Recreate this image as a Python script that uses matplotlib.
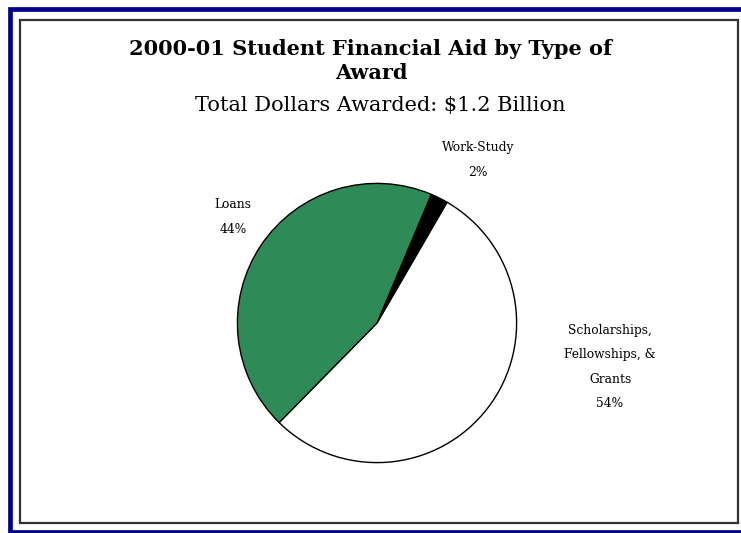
import matplotlib
matplotlib.use("Agg")
import matplotlib.pyplot as plt
from matplotlib.lines import Line2D
from matplotlib.patches import Rectangle

# ======================
# Data
# ======================
categories = ["Scholarships,\nFellowships, &\nGrants", "Work-Study", "Loans"]
shares = [54, 2, 44]
colors = ["white", "black", "#2E8B57"]

title = "2000-01 Student Financial Aid by Type of\nAward"
subtitle = "Total Dollars Awarded: $1.2 Billion"

W, H = 741, 533
fig = plt.figure(figsize=(W / 100, H / 100), dpi=100)
fig.patch.set_facecolor("white")

serif = ["DejaVu Serif"]


def px(x, y):
    # pixel position (from top-left) to figure fraction
    return x / W, 1 - y / H


# ======================
# Frames
# ======================
# outer blue border: open on the right side
navy = "#00008C"
(x0, y_top), (_, y_bot) = px(9.5, 9.0), px(9.5, 531.5)
fig.lines.append(Line2D([1.0, x0, x0, 1.0], [y_top, y_top, y_bot, y_bot],
                        transform=fig.transFigure, color=navy,
                        linewidth=3.4, solid_joinstyle="miter", zorder=0))

inner_frame = Rectangle(px(20, 523), (738 - 20) / W, (523 - 20) / H,
                        transform=fig.transFigure, fill=False,
                        edgecolor="#333333", linewidth=1.6, zorder=0)
fig.patches.append(inner_frame)

# ======================
# Titles
# ======================
fig.text(*px(371, 61), title, ha="center", va="center", fontsize=15,
         fontweight="bold", family=serif, linespacing=1.2)
fig.text(*px(380, 105), subtitle, ha="center", va="center", fontsize=15,
         family=serif)

# ======================
# Pie
# ======================
cx, cy, r = 377, 323, 141
ax = fig.add_axes([(cx - r) / W, (H - cy - r) / H, 2 * r / W, 2 * r / H])
ax.pie(shares, colors=colors, startangle=225.5, counterclock=True,
       wedgeprops=dict(edgecolor="black", linewidth=1.0))
ax.set_xlim(-1.01, 1.01)
ax.set_ylim(-1.01, 1.01)
ax.set_aspect("equal")
ax.axis("off")

# ======================
# Slice labels
# ======================
label_pos = {
    "Scholarships,\nFellowships, &\nGrants": (610, 367),
    "Work-Study": (478, 160),
    "Loans": (233, 217),
}
for name, val in zip(categories, shares):
    x, y = label_pos[name]
    fig.text(*px(x, y), f"{name}\n{val}%", ha="center", va="center",
             fontsize=8.8, family=serif, linespacing=2.15)

fig.savefig("out.png", dpi=100)
